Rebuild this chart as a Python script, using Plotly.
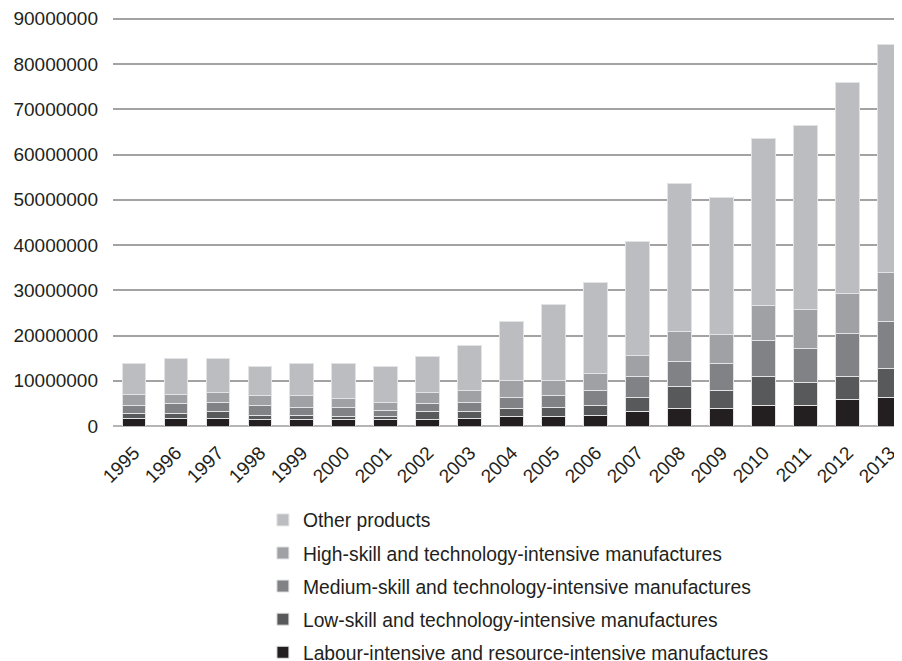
import plotly.graph_objects as go

years = [str(y) for y in range(1995, 2014)]

# values in millions, converted below
labour = [1.7, 1.7, 1.7, 1.4, 1.4, 1.4, 1.4, 1.4, 1.7, 2.1, 2.1, 2.3, 3.2, 3.9, 3.9, 4.6, 4.6, 5.8, 6.3]
low = [1.1, 1.0, 1.5, 0.9, 0.9, 0.7, 0.7, 1.8, 1.5, 1.8, 2.1, 2.3, 3.1, 4.9, 4.0, 6.4, 5.0, 5.2, 6.4]
medium = [1.8, 2.3, 2.0, 2.2, 1.9, 1.9, 1.3, 1.8, 2.0, 2.4, 2.5, 3.3, 4.7, 5.5, 6.0, 7.9, 7.5, 9.4, 10.4]
high = [2.4, 2.0, 2.2, 2.2, 2.5, 2.1, 1.7, 2.4, 2.6, 3.7, 3.3, 3.8, 4.6, 6.6, 6.3, 7.7, 8.6, 8.9, 10.8]
other = [6.9, 8.0, 7.6, 6.5, 7.2, 7.8, 8.1, 7.9, 10.0, 13.2, 16.8, 20.1, 25.1, 32.7, 30.2, 37.0, 40.7, 46.6, 50.5]

series_names = [
    "Labour-intensive and resource-intensive manufactures",
    "Low-skill and technology-intensive manufactures",
    "Medium-skill and technology-intensive manufactures",
    "High-skill and technology-intensive manufactures",
    "Other products",
]
series_values = [labour, low, medium, high, other]
colors = ["#231f20", "#58595b", "#808285", "#a0a1a4", "#bcbdc0"]

y_ticks = [i * 10000000 for i in range(10)]

fig = go.Figure()
for i, (name, vals, col) in enumerate(zip(series_names, series_values, colors)):
    fig.add_trace(go.Bar(
        x=years,
        y=[v * 1e6 for v in vals],
        name=name,
        legendgroup="g%d" % i,
        legendrank=len(series_names) - i,
        marker=dict(color=col, line=dict(color="#e2e3e5", width=1)),
    ))

fig.update_layout(
    barmode="stack",
    bargap=0.43,
    width=894,
    height=653,
    margin=dict(l=105, r=0, t=9, b=235, autoexpand=False),
    plot_bgcolor="white",
    paper_bgcolor="white",
    font=dict(family="Liberation Sans, Arial, sans-serif", size=19, color="#231f20"),
    showlegend=True,
    legend=dict(
        orientation="v",
        traceorder="grouped",
        x=0.19,
        xanchor="left",
        y=-0.183,
        yanchor="top",
        font=dict(size=19.3, color="#231f20"),
        tracegroupgap=5,
        bgcolor="rgba(0,0,0,0)",
    ),
    xaxis=dict(
        type="category",
        range=[-0.5, 18.29],
        tickangle=-45,
        showgrid=False,
        showline=False,
        ticks="",
        automargin=False,
        ticklabelstandoff=11,
        tickfont=dict(size=19),
    ),
    yaxis=dict(
        range=[0, 90400000],
        tickvals=y_ticks,
        ticktext=[str(v) for v in y_ticks],
        showgrid=True,
        gridcolor="#a3a3a3",
        gridwidth=2,
        zeroline=True,
        zerolinecolor="#b5b5b5",
        zerolinewidth=2,
        showline=False,
        ticks="",
        automargin=False,
        ticklabelstandoff=14,
        tickfont=dict(size=19),
    ),
)

fig.write_html("out.html")
